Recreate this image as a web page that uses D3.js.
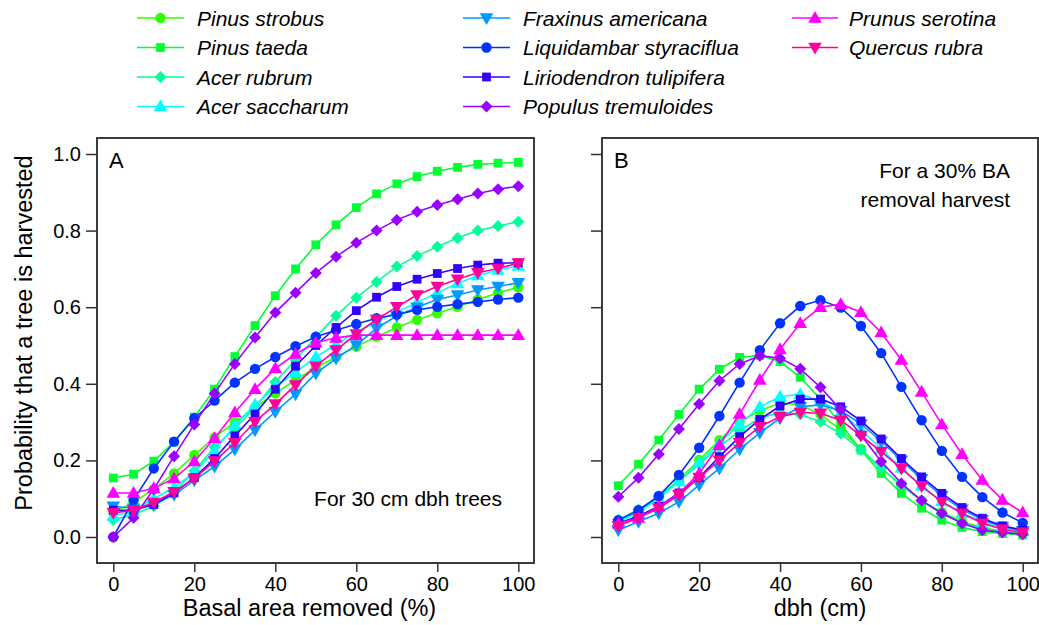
<!DOCTYPE html>
<html><head><meta charset="utf-8">
<script src="https://cdn.jsdelivr.net/npm/d3@7"></script>
<style>
html,body{margin:0;padding:0;background:#fff;}
svg text{font-family:"Liberation Sans",Arial,Helvetica,sans-serif;fill:#000;}
</style></head>
<body>
<svg id="chart" width="1039" height="625"></svg>
<script>
// ---------- data ----------
const xValues = [0,5,10,15,20,25,30,35,40,45,50,55,60,65,70,75,80,85,90,95,100];
const xTicks = [0,20,40,60,80,100];
const yTicks = [0,0.2,0.4,0.6,0.8,1.0];
const speciesNames = ["Pinus strobus","Pinus taeda","Acer rubrum","Acer saccharum","Fraxinus americana",
  "Liquidambar styraciflua","Liriodendron tulipifera","Populus tremuloides","Prunus serotina","Quercus rubra"];
const speciesColors = ["#33ff00","#00ff33","#00ff99","#00ffff","#0099ff","#0033ff","#3300ff","#9900ff","#ff00ff","#ff0099"];
const speciesShapes = ["circle","square","diamond","triangle","invtriangle","circle","square","diamond","triangle","invtriangle"];

// Panel A: basal area removed (%)
const pinusStrobusA   = [0.065,0.09,0.125,0.166,0.214,0.26,0.30,0.338,0.375,0.41,0.442,0.47,0.497,0.523,0.547,0.567,0.584,0.601,0.62,0.637,0.652];
const pinusTaedaA     = [0.154,0.164,0.198,0.248,0.313,0.386,0.471,0.552,0.63,0.70,0.763,0.815,0.86,0.896,0.922,0.941,0.955,0.965,0.973,0.976,0.978];
const acerRubrumA     = [0.045,0.058,0.081,0.118,0.172,0.235,0.283,0.338,0.405,0.462,0.522,0.578,0.625,0.666,0.706,0.734,0.758,0.781,0.80,0.812,0.823];
const acerSaccharumA  = [0.055,0.068,0.10,0.13,0.168,0.225,0.292,0.345,0.392,0.43,0.47,0.503,0.535,0.562,0.588,0.612,0.638,0.662,0.683,0.697,0.708];
const fraxinusA       = [0.08,0.075,0.085,0.11,0.148,0.184,0.229,0.279,0.327,0.373,0.427,0.466,0.501,0.545,0.577,0.60,0.62,0.632,0.645,0.654,0.664];
const liquidambarA    = [0.0,0.097,0.179,0.249,0.31,0.356,0.403,0.439,0.47,0.498,0.523,0.54,0.556,0.571,0.581,0.593,0.601,0.608,0.614,0.62,0.625];
const liriodendronA   = [0.07,0.07,0.085,0.115,0.155,0.205,0.264,0.321,0.386,0.446,0.50,0.547,0.591,0.626,0.654,0.673,0.688,0.701,0.71,0.715,0.716];
const populusA        = [0.0,0.05,0.125,0.211,0.294,0.375,0.452,0.521,0.586,0.638,0.689,0.732,0.768,0.80,0.828,0.849,0.867,0.882,0.897,0.908,0.916];
const prunusA         = [0.115,0.115,0.127,0.153,0.197,0.258,0.325,0.386,0.44,0.478,0.507,0.52,0.527,0.527,0.527,0.527,0.527,0.527,0.527,0.527,0.527];
const quercusA        = [0.063,0.07,0.09,0.118,0.153,0.198,0.246,0.301,0.347,0.397,0.446,0.488,0.53,0.568,0.601,0.632,0.654,0.673,0.69,0.701,0.715];

// Panel B: dbh (cm), 30% BA removal
const pinusStrobusB   = [0.04,0.065,0.105,0.15,0.201,0.253,0.30,0.33,0.35,0.345,0.32,0.28,0.23,0.18,0.135,0.095,0.065,0.04,0.025,0.015,0.01];
const pinusTaedaB     = [0.134,0.19,0.253,0.32,0.386,0.438,0.469,0.474,0.458,0.417,0.36,0.295,0.227,0.166,0.114,0.075,0.044,0.025,0.014,0.009,0.005];
const acerRubrumB     = [0.045,0.072,0.105,0.145,0.19,0.235,0.278,0.31,0.325,0.32,0.301,0.27,0.227,0.18,0.135,0.095,0.06,0.038,0.022,0.013,0.007];
const acerSaccharumB  = [0.04,0.065,0.1,0.145,0.194,0.245,0.295,0.34,0.366,0.373,0.355,0.325,0.28,0.23,0.18,0.133,0.093,0.062,0.04,0.025,0.015];
const fraxinusB       = [0.018,0.04,0.062,0.092,0.136,0.179,0.229,0.272,0.31,0.34,0.345,0.33,0.295,0.25,0.2,0.152,0.108,0.072,0.045,0.027,0.016];
const liquidambarB    = [0.044,0.07,0.107,0.162,0.233,0.316,0.403,0.488,0.558,0.603,0.618,0.599,0.551,0.48,0.392,0.305,0.225,0.157,0.104,0.064,0.037];
const liriodendronB   = [0.035,0.055,0.08,0.115,0.155,0.21,0.262,0.307,0.342,0.36,0.36,0.34,0.303,0.256,0.205,0.157,0.114,0.077,0.049,0.029,0.018];
const populusB        = [0.105,0.155,0.216,0.282,0.347,0.408,0.452,0.473,0.467,0.439,0.391,0.332,0.266,0.197,0.14,0.095,0.062,0.036,0.018,0.012,0.007];
const prunusB         = [0.035,0.05,0.079,0.114,0.166,0.24,0.321,0.41,0.49,0.558,0.60,0.608,0.587,0.534,0.462,0.379,0.294,0.216,0.149,0.097,0.064];
const quercusB        = [0.029,0.05,0.075,0.11,0.155,0.2,0.246,0.288,0.314,0.325,0.323,0.305,0.265,0.223,0.179,0.133,0.092,0.062,0.036,0.02,0.012];

const seriesA = [pinusStrobusA,pinusTaedaA,acerRubrumA,acerSaccharumA,fraxinusA,liquidambarA,liriodendronA,populusA,prunusA,quercusA];
const seriesB = [pinusStrobusB,pinusTaedaB,acerRubrumB,acerSaccharumB,fraxinusB,liquidambarB,liriodendronB,populusB,prunusB,quercusB];

// ---------- drawing ----------
const svg = d3.select("#chart");
const FONT = '"Liberation Sans",Arial,Helvetica,sans-serif';

function shapePath(shape){
  switch(shape){
    case "circle": { const r=5.2; return `M${-r},0A${r},${r} 0 1,0 ${r},0A${r},${r} 0 1,0 ${-r},0Z`; }
    case "square": { const h=4.4; return `M${-h},${-h}H${h}V${h}H${-h}Z`; }
    case "diamond": { const h=6.0; return `M0,${-h}L${h},0L0,${h}L${-h},0Z`; }
    case "triangle": { return `M0,-7L6.8,4.8L-6.8,4.8Z`; }
    case "invtriangle": { return `M0,7L6.8,-4.8L-6.8,-4.8Z`; }
  }
}

const yScale = d3.scaleLinear().domain([0,1]).range([537,154]);
const panels = [
  {x0:97, x1:534, range:[113.3,518.3], data:seriesA, label:"A", xTitle:"Basal area removed (%)", yLabels:true},
  {x0:602, x1:1038, range:[618.3,1022.7], data:seriesB, label:"B", xTitle:"dbh (cm)", yLabels:false}
];
const frameTop = 138, frameBottom = 563;

panels.forEach(p=>{
  const xs = d3.scaleLinear().domain([0,100]).range(p.range);
  const g = svg.append("g");
  p.data.forEach((vals,i)=>{
    const pts = xValues.map((xv,j)=>[xs(xv), yScale(vals[j])]);
    g.append("path").attr("d", d3.line()(pts)).attr("fill","none")
      .attr("stroke", speciesColors[i]).attr("stroke-width",1.6);
    g.selectAll(null).data(pts).enter().append("path")
      .attr("d", shapePath(speciesShapes[i]))
      .attr("transform", d=>`translate(${d[0]},${d[1]})`)
      .attr("fill", speciesColors[i]);
  });
  svg.append("rect").attr("x",p.x0).attr("y",frameTop).attr("width",p.x1-p.x0).attr("height",frameBottom-frameTop)
    .attr("fill","none").attr("stroke","#333").attr("stroke-width",1.9);
  const xa = svg.append("g").attr("transform",`translate(0,${frameBottom})`)
    .call(d3.axisBottom(xs).tickValues(xTicks).tickFormat(d3.format("d")).tickSize(9).tickSizeOuter(0).tickPadding(5));
  xa.select(".domain").remove();
  xa.selectAll("line").attr("stroke","#333").attr("stroke-width",1.5);
  xa.selectAll("text").attr("font-size",20).attr("font-family",FONT).attr("fill","#000");
  const ya = svg.append("g").attr("transform",`translate(${p.x0},0)`)
    .call(d3.axisLeft(yScale).tickValues(yTicks).tickFormat(p.yLabels?d3.format(".1f"):"").tickSize(11).tickSizeOuter(0).tickPadding(5));
  ya.select(".domain").remove();
  ya.selectAll("line").attr("stroke","#333").attr("stroke-width",1.5);
  ya.selectAll("text").attr("font-size",20).attr("font-family",FONT).attr("fill","#000");
  svg.append("text").attr("x",(p.x0+p.x1)/2 - (p.yLabels?6:0)).attr("y",616).attr("text-anchor","middle")
    .attr("font-size",23.5).text(p.xTitle);
  svg.append("text").attr("x",p.x0+12).attr("y",168).attr("font-size",22).text(p.label);
});

svg.append("text").attr("x",502).attr("y",506).attr("text-anchor","end").attr("font-size",21).text("For 30 cm dbh trees");
svg.append("text").attr("x",1010).attr("y",178).attr("text-anchor","end").attr("font-size",21).text("For a 30% BA");
svg.append("text").attr("x",1010).attr("y",207).attr("text-anchor","end").attr("font-size",21).text("removal harvest");

svg.append("text").attr("transform","translate(32,333) rotate(-90)").attr("text-anchor","middle")
  .attr("font-size",23.5).text("Probability that a tree is harvested");

const legendCols = [{lx0:137,lx1:184,tx:197},{lx0:463,lx1:510,tx:523},{lx0:792,lx1:838,tx:849}];
const legendRows = [18,47.5,77,106.5];
speciesNames.forEach((name,i)=>{
  const c = legendCols[Math.floor(i/4)], ry = legendRows[i%4];
  const lg = svg.append("g");
  lg.append("line").attr("x1",c.lx0).attr("x2",c.lx1).attr("y1",ry).attr("y2",ry)
    .attr("stroke",speciesColors[i]).attr("stroke-width",1.6);
  lg.append("path").attr("d",shapePath(speciesShapes[i]))
    .attr("transform",`translate(${(c.lx0+c.lx1)/2},${ry})`).attr("fill",speciesColors[i]);
  lg.append("text").attr("x",c.tx).attr("y",ry+7.5).attr("font-size",21).attr("font-style","italic").text(name);
});
</script>
</body></html>
